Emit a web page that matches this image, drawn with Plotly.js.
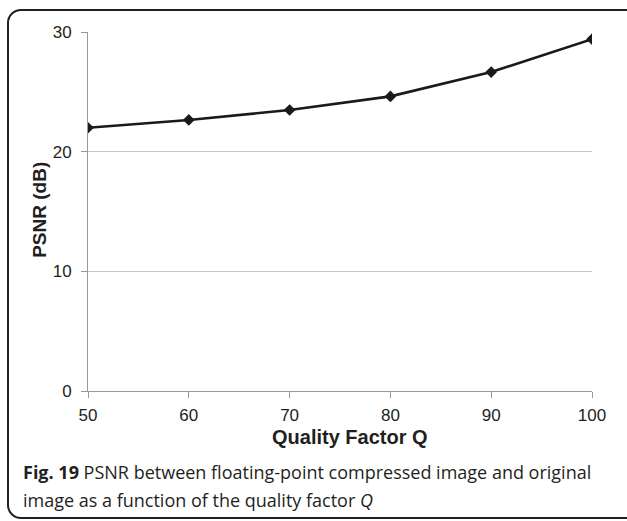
<!DOCTYPE html>
<html>
<head>
<meta charset="utf-8">
<script src="https://cdn.plot.ly/plotly-3.0.1.min.js"></script>
<style>
  html, body { margin: 0; padding: 0; background: #ffffff; overflow: hidden; }
  #frame { position: absolute; left: 7px; top: 9px; width: 640px; height: 510px;
           border: 2px solid #231f20; border-radius: 14px; box-sizing: border-box; }
  #chart { position: absolute; left: 0; top: 0; width: 627px; height: 521px; }
</style>
</head>
<body>
<div id="frame"></div>
<div id="chart"></div>
<script>
const qualityFactor = [50, 60, 70, 80, 90, 100];
const psnrDb = [22.0, 22.65, 23.48, 24.62, 26.65, 29.4];
const xTickValues = [50, 60, 70, 80, 90, 100];
const yTickValues = [0, 10, 20, 30];
const xTitle = '<b>Quality Factor Q</b>';
const yTitle = '<b>PSNR (dB)</b>';
const captionLine1 = '<b>Fig. 19</b> PSNR between floating-point compressed image and original';
const captionLine2 = 'image as a function of the quality factor <i>Q</i>';

const trace = {
  x: qualityFactor,
  y: psnrDb,
  type: 'scatter',
  mode: 'lines+markers',
  line: { color: '#1a1a1a', width: 2.6 },
  marker: { symbol: 'diamond', size: 9, color: '#1a1a1a' },
  hoverinfo: 'skip'
};

const chartFont = 'Liberation Sans, Arial, sans-serif';
const captionFont = 'Open Sans, Noto Sans, sans-serif';

const layout = {
  width: 627,
  height: 521,
  margin: { l: 88, r: 35, t: 32, b: 130 },
  paper_bgcolor: 'rgba(0,0,0,0)',
  plot_bgcolor: 'rgba(0,0,0,0)',
  showlegend: false,
  xaxis: {
    range: [50, 100],
    tickvals: xTickValues,
    ticktext: xTickValues.map(String),
    showgrid: false,
    zeroline: false,
    showline: true,
    linecolor: '#999999',
    linewidth: 1,
    ticks: 'outside',
    ticklen: 6,
    tickcolor: '#999999',
    ticklabelstandoff: 3,
    tickfont: { family: chartFont, size: 17, color: '#231f20' }
  },
  yaxis: {
    range: [0, 30],
    tickvals: yTickValues,
    ticktext: yTickValues.map(String),
    showgrid: true,
    gridcolor: '#c4c4c4',
    gridwidth: 1,
    zeroline: false,
    showline: true,
    linecolor: '#999999',
    linewidth: 1,
    ticks: 'outside',
    ticklen: 6,
    tickcolor: '#999999',
    ticklabelstandoff: 6,
    tickfont: { family: chartFont, size: 17, color: '#231f20' }
  },
  annotations: [
    {
      xref: 'paper', yref: 'paper',
      x: 0.519, y: -0.128,
      xanchor: 'center', yanchor: 'middle',
      showarrow: false,
      text: xTitle,
      font: { family: chartFont, size: 20, color: '#231f20' }
    },
    {
      xref: 'paper', yref: 'paper',
      x: -0.095, y: 0.505,
      xanchor: 'center', yanchor: 'middle',
      textangle: -90,
      showarrow: false,
      text: yTitle,
      font: { family: chartFont, size: 19, color: '#231f20' }
    },
    {
      xref: 'paper', yref: 'paper',
      x: -0.132, y: -0.226,
      xanchor: 'left', yanchor: 'middle',
      showarrow: false,
      align: 'left',
      text: captionLine1,
      font: { family: captionFont, size: 18, color: '#231f20' }
    },
    {
      xref: 'paper', yref: 'paper',
      x: -0.132, y: -0.304,
      xanchor: 'left', yanchor: 'middle',
      showarrow: false,
      align: 'left',
      text: captionLine2,
      font: { family: captionFont, size: 18, color: '#231f20' }
    }
  ]
};

Plotly.newPlot('chart', [trace], layout, { staticPlot: true, displayModeBar: false });
</script>
</body>
</html>
